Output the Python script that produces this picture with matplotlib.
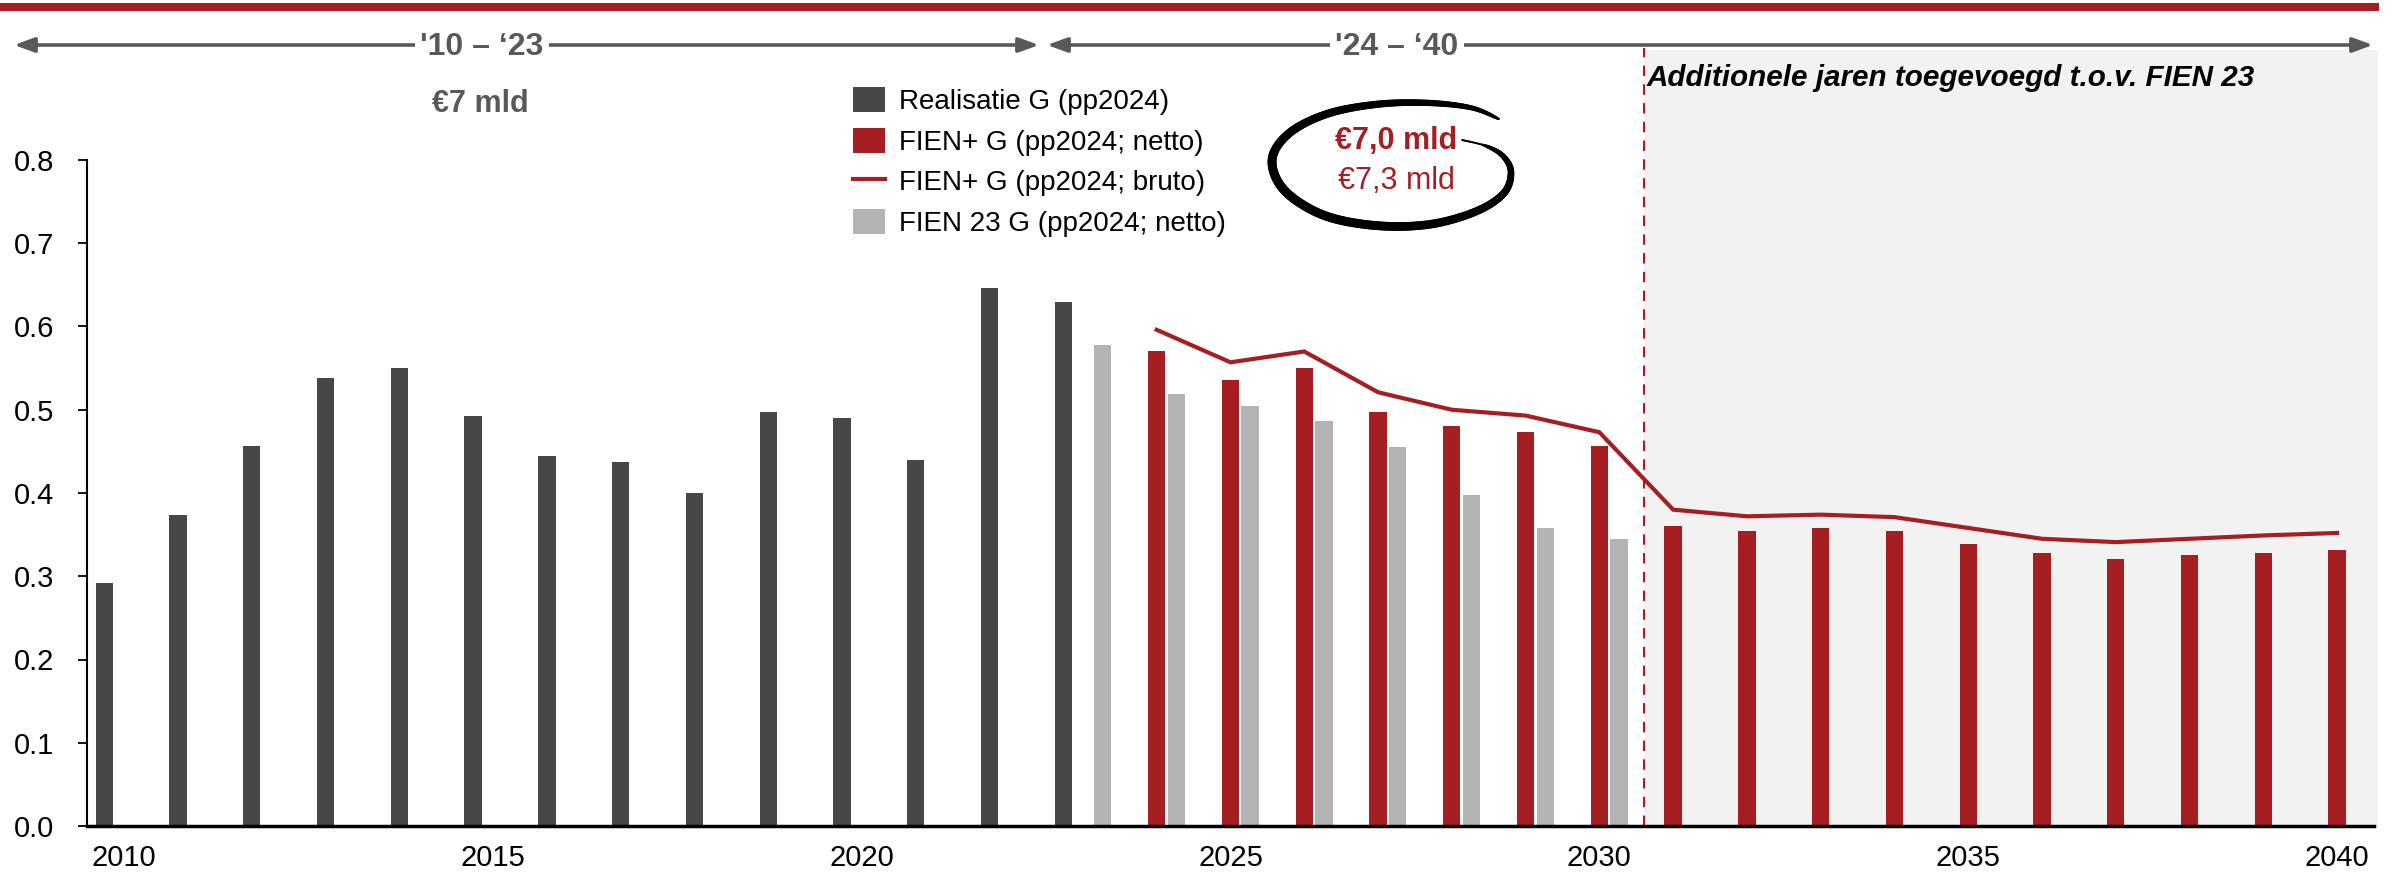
import numpy as np
import matplotlib
matplotlib.use("Agg")
import matplotlib.pyplot as plt
from matplotlib.patches import Patch, Rectangle, FancyArrowPatch
from matplotlib.lines import Line2D
from matplotlib.collections import LineCollection

plt.rcParams["font.family"] = ["Liberation Sans", "DejaVu Sans"]

# ---- data (mld euro per jaar, prijspeil 2024) ----
years_real = list(range(2010, 2024))
realisatie = [0.292, 0.374, 0.457, 0.538, 0.550, 0.492, 0.444, 0.437, 0.400,
              0.497, 0.490, 0.440, 0.646, 0.629]

years_fien23 = list(range(2023, 2031))
fien23_netto = [0.578, 0.519, 0.505, 0.486, 0.455, 0.398, 0.358, 0.345]

years_plus = list(range(2024, 2041))
fienplus_netto = [0.571, 0.536, 0.550, 0.497, 0.481, 0.473, 0.457, 0.360, 0.354,
                  0.358, 0.354, 0.339, 0.328, 0.321, 0.325, 0.328, 0.332]
fienplus_bruto = [0.596, 0.557, 0.570, 0.521, 0.500, 0.493, 0.473, 0.380, 0.372,
                  0.374, 0.371, 0.358, 0.345, 0.341, 0.345, 0.349, 0.352]

legend_labels = ["Realisatie G (pp2024)", "FIEN+ G (pp2024; netto)",
                 "FIEN+ G (pp2024; bruto)", "FIEN 23 G (pp2024; netto)"]
period_labels = ["'10 \u2013 \u201823", "'24 \u2013 \u201840"]
total_label = "\u20ac7 mld"
netto_total = "\u20ac7,0 mld"
bruto_total = "\u20ac7,3 mld"
extra_years_note = "Additionele jaren toegevoegd t.o.v. FIEN 23"
extra_years_start = 2030.6

# ---- style ----
DARK = "#474747"
RED = "#A51F22"
LIGHT = "#B3B3B3"
SHADE = "#F2F2F2"
ARROW = "#595959"
W, H = 2394, 873
BAR_W = 0.235
OFFSET = 0.266


def fx(px):
    return px / W


def fy(py):
    return 1 - py / H


fig = plt.figure(figsize=(W / 100, H / 100), dpi=100)
ax = fig.add_axes([fx(87), fy(826), (2374 - 87) / W, (826 - 160) / H])

# shaded block for the years that were added
ax.axvspan(extra_years_start, 2040.55, ymin=0, ymax=(826 - 50) / (826 - 160),
           color=SHADE, zorder=0, clip_on=False, lw=0)
ax.plot([extra_years_start, extra_years_start], [0, 0.8 * (826 - 48) / (826 - 160)],
        color=RED, lw=1.5, ls=(0, (5, 4)), clip_on=False, zorder=1)

yr = np.array(years_real)
ax.bar(yr - OFFSET, realisatie, width=BAR_W, color=DARK, zorder=2)
yp = np.array(years_plus)
ax.bar(yp, fienplus_netto, width=BAR_W, color=RED, zorder=2)
yf = np.array(years_fien23)
ax.bar(yf + OFFSET, fien23_netto, width=BAR_W, color=LIGHT, zorder=2)
ax.plot(yp, fienplus_bruto, color=RED, lw=3, zorder=3, solid_joinstyle="miter")

ax.set_xlim(2009.5, 2040.5)
ax.set_ylim(0, 0.8)
ax.set_yticks(np.arange(0, 0.81, 0.1))
ax.set_yticklabels([f"{v:.1f}" for v in np.arange(0, 0.81, 0.1)])
ax.set_xticks([2010, 2015, 2020, 2025, 2030, 2035, 2040])
ax.tick_params(axis="y", length=6.5, width=1.3, pad=17, labelsize=21)
ax.tick_params(axis="x", length=0, pad=13, labelsize=21)
for s in ("top", "right"):
    ax.spines[s].set_visible(False)
ax.spines["left"].set_linewidth(1.5)
ax.spines["bottom"].set_linewidth(2.5)
ax.set_facecolor("none")

# legend
handles = [Patch(facecolor=DARK), Patch(facecolor=RED),
           Line2D([], [], color=RED, lw=3), Patch(facecolor=LIGHT)]
fig.legend(handles, legend_labels, loc="upper left",
           bbox_to_anchor=(fx(853), fy(87)), frameon=False, fontsize=20,
           handlelength=1.15, handleheight=1.0, handletextpad=0.5,
           labelspacing=0.46, borderpad=0, borderaxespad=0)

# red band across the top
fig.add_artist(Rectangle((0, fy(11)), fx(2379), 8 / H, transform=fig.transFigure,
                         color=RED, lw=0))

# period arrows with their labels
arrow_style = "<|-|>,head_length=0.55,head_width=0.2"
for x0, x1 in [(14, 1039), (1047, 2373)]:
    fig.add_artist(FancyArrowPatch((fx(x0), fy(45)), (fx(x1), fy(45)),
                                   transform=fig.transFigure, arrowstyle=arrow_style,
                                   mutation_scale=22, color=ARROW, lw=2.6,
                                   shrinkA=0, shrinkB=0))
for xc, txt in [(482, period_labels[0]), (1397, period_labels[1])]:
    fig.text(fx(xc), fy(55), txt, ha="center", va="baseline", fontsize=23,
             fontweight="bold", color=ARROW,
             bbox=dict(facecolor="white", edgecolor="none", pad=4))
fig.text(fx(480), fy(112), total_label, ha="center", va="baseline", fontsize=22,
         fontweight="bold", color=ARROW)

fig.text(fx(1647), fy(86), extra_years_note, ha="left", va="baseline",
         fontsize=21.3, fontweight="bold", style="italic", color="black")

# totals inside a hand-drawn loop
fig.text(fx(1396), fy(149), netto_total, ha="center", va="baseline", fontsize=22,
         fontweight="bold", color=RED)
fig.text(fx(1396), fy(189), bruto_total, ha="center", va="baseline", fontsize=22,
         color=RED)


def catmull_rom(pts, n=20):
    pts = np.asarray(pts, float)
    p = np.vstack([pts[0], pts, pts[-1]])
    out = []
    for i in range(1, len(p) - 2):
        p0, p1, p2, p3 = p[i - 1], p[i], p[i + 1], p[i + 2]
        for t in np.linspace(0, 1, n, endpoint=False):
            t2, t3 = t * t, t * t * t
            out.append(0.5 * ((2 * p1) + (-p0 + p2) * t + (2 * p0 - 5 * p1 + 4 * p2 - p3) * t2
                              + (-p0 + 3 * p1 - 3 * p2 + p3) * t3))
    out.append(pts[-1])
    return np.array(out)


loop = [(1499, 119), (1472, 108), (1430, 103), (1380, 104), (1330, 113), (1292, 131),
        (1273, 155), (1277, 180), (1297, 201), (1332, 218), (1382, 226), (1432, 224),
        (1477, 211), (1504, 193), (1511, 172), (1503, 156), (1486, 146), (1462, 140)]
curve = catmull_rom(loop)
cx = fx(curve[:, 0])
cy = fy(curve[:, 1])
segs = np.stack([np.column_stack([cx[:-1], cy[:-1]]), np.column_stack([cx[1:], cy[1:]])], axis=1)
s = np.linspace(0, 1, len(segs))
widths = 1.3 + 5.2 * np.sin(np.pi * np.clip(s * 1.05, 0, 1)) ** 0.5
fig.add_artist(LineCollection(segs, linewidths=widths, colors="black",
                              transform=fig.transFigure, capstyle="round"))

fig.savefig("out.png", dpi=100)
